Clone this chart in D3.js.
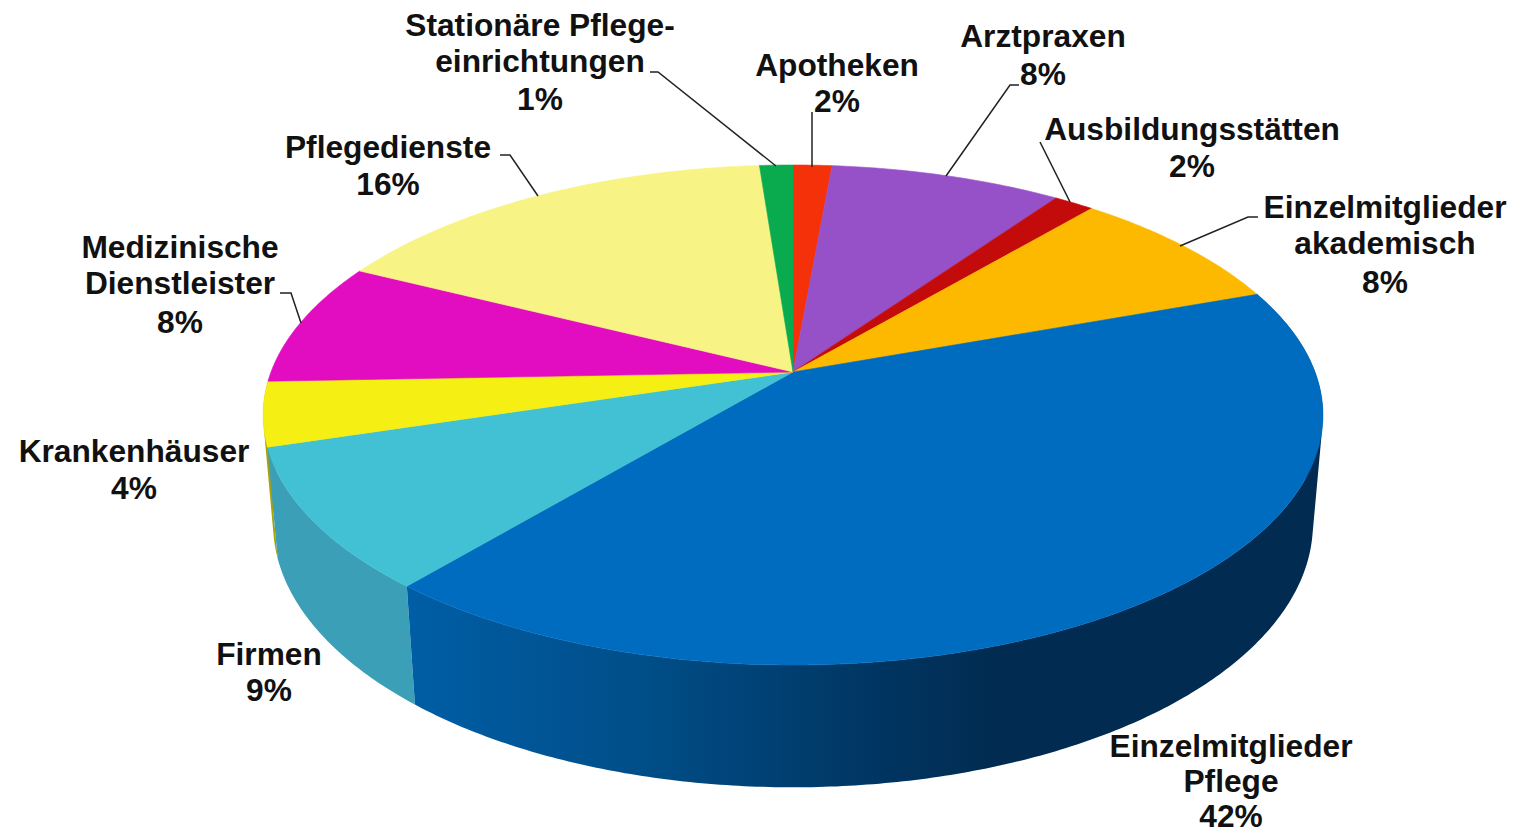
<!DOCTYPE html>
<html lang="de">
<head>
    <meta charset="UTF-8">
    <title>Mitgliederstruktur</title>
    <script src="https://d3js.org/d3.v7.min.js"></script>
    <style>
        html, body { margin: 0; padding: 0; background: #fff; overflow: hidden; }
        text {
            font-family: "Liberation Sans", Arial, sans-serif;
            font-weight: bold;
            font-size: 31.7px;
            fill: #111;
            text-anchor: middle;
        }
    </style>
</head>
<body>
    <div id="chart"></div>
    <script>
        // Slices clockwise from twelve o'clock, sizes
        const categories = ["Apotheken", "Arztpraxen", "Ausbildungsstätten", "Einzelmitglieder akademisch",
            "Einzelmitglieder Pflege", "Firmen", "Krankenhäuser", "Medizinische Dienstleister",
            "Pflegedienste", "Stationäre Pflegeeinrichtungen"];
        const values = [1.4, 8.35, 1.45, 8.3, 41.6, 9.15, 4.15, 8.0, 16.4, 1.2];
        const percentLabels = ["2%", "8%", "2%", "8%", "42%", "9%", "4%", "8%", "16%", "1%"];
        const topColors = ["#f5310a", "#9650c8", "#c40b0b", "#fcb900", "#006cbf",
            "#41c1d3", "#f5ef14", "#e20cc0", "#f7f384", "#0aab4f"];
        const sideColors = ["#f5310a", "#9650c8", "#c40b0b", "#fcb900", "url(#pflegeSide)",
            "#3c9fb8", "#a8a20a", "#e20cc0", "#f7f384", "#0aab4f"];

        // Label text lines and where they sit on the page
        const labelLines = [
            ["Apotheken", "2%"], ["Arztpraxen", "8%"], ["Ausbildungsstätten", "2%"],
            ["Einzelmitglieder", "akademisch", "8%"], ["Einzelmitglieder", "Pflege", "42%"],
            ["Firmen", "9%"], ["Krankenhäuser", "4%"], ["Medizinische", "Dienstleister", "8%"],
            ["Pflegedienste", "16%"], ["Stationäre Pflege-", "einrichtungen", "1%"]
        ];
        const labelX = [837, 1043, 1192, 1385, 1231, 269, 134, 180, 388, 540];
        const labelY = [
            [76, 112], [47, 85], [140, 177], [218, 254, 293], [757, 792, 827],
            [665, 701], [462, 499], [258, 294, 333], [158, 195], [36, 72, 110]
        ];
        const leaders = [
            [[812, 112], [812, 167]],
            [[1019, 85], [1010, 85], [946, 176]],
            [[1040, 142], [1070, 202]],
            [[1258, 217], [1248, 217], [1180, 246]],
            [[500, 155], [510, 155], [538, 196]],
            [[280, 293], [291, 293], [301, 323]],
            [[650, 72], [658, 72], [776, 166]]
        ];

        const width = 1524;
        const height = 834;

        // Perspective of the disc: apex of the pie, spread and foreshortening
        const cx = 793, cy = 372;
        const spreadX = 522, spreadY = 242.6, depth = 109;
        const tilt = 0.172, recede = 0.0186;

        // Map a pie angle on the top (z=0) or bottom (z=1) rim to the page
        function project(angle, z) {
            const x = Math.sin(angle);
            const y = -Math.cos(angle);
            const w = 1 - tilt * y + recede * z;
            return [cx + spreadX * x / w, cy + (spreadY * y + depth * z) / w];
        }

        function rim(a0, a1, z) {
            const n = Math.max(2, Math.ceil((a1 - a0) / 0.01));
            return d3.range(n + 1).map(i => project(a0 + (a1 - a0) * i / n, z));
        }

        const line = d3.line();

        // Side wall as small quads all wound the same way, so the outline
        // keeps the straight tangent where top and bottom rim cross
        function sidePath(a0, a1) {
            const top = rim(a0, a1, 0);
            const bottom = rim(a0, a1, 1);
            return d3.range(top.length - 1).map(i => {
                const quad = [top[i], top[i + 1], bottom[i + 1], bottom[i]];
                if (d3.polygonArea(quad) < 0) quad.reverse();
                return line(quad) + "Z";
            }).join("");
        }

        const svg = d3.select("#chart")
            .append("svg")
            .attr("width", width)
            .attr("height", height);

        // Side of the big slice goes dark toward the right
        const grad = svg.append("defs").append("linearGradient")
            .attr("id", "pflegeSide")
            .attr("gradientUnits", "userSpaceOnUse")
            .attr("x1", 407).attr("x2", 1000).attr("y1", 0).attr("y2", 0);
        grad.append("stop").attr("offset", 0).attr("stop-color", "#005ea6");
        grad.append("stop").attr("offset", 0.4).attr("stop-color", "#004e88");
        grad.append("stop").attr("offset", 0.8).attr("stop-color", "#003561");
        grad.append("stop").attr("offset", 1).attr("stop-color", "#012b50");

        const pie = d3.pie().sort(null).value(d => d);
        const arcs = pie(values);

        // Only the slices on the near half show a side wall
        const frontIndex = [6, 5, 4];
        svg.append("g").selectAll("path")
            .data(frontIndex)
            .join("path")
            .attr("d", i => sidePath(arcs[i].startAngle, arcs[i].endAngle))
            .attr("fill", i => sideColors[i]);

        // Top faces
        svg.append("g").selectAll("path")
            .data(arcs)
            .join("path")
            .attr("d", d => line([[cx, cy]].concat(rim(d.startAngle, d.endAngle, 0))) + "Z")
            .attr("fill", (d, i) => topColors[i])
            .attr("stroke", (d, i) => topColors[i])
            .attr("stroke-width", 0.6);

        // Leader lines
        svg.append("g").selectAll("path")
            .data(leaders)
            .join("path")
            .attr("d", d => line(d))
            .attr("fill", "none")
            .attr("stroke", "#222")
            .attr("stroke-width", 1.5);

        // Labels
        const labels = svg.append("g").selectAll("text")
            .data(labelLines)
            .join("text")
            .attr("transform", (d, i) => `translate(${labelX[i]},0)`);
        labels.selectAll("tspan")
            .data((d, i) => d.map((t, j) => ({ t, y: labelY[i][j] })))
            .join("tspan")
            .attr("x", 0)
            .attr("y", d => d.y)
            .text(d => d.t);
    </script>
</body>
</html>
